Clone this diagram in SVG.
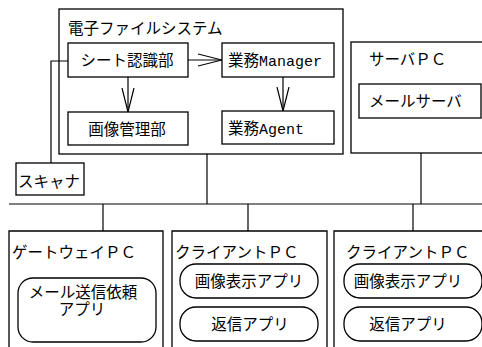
<svg xmlns="http://www.w3.org/2000/svg" width="482" height="347" viewBox="0 0 482 347">
<defs>
<style>
.b{fill:none;stroke:#000;stroke-width:1.3}
.w{fill:#fff;stroke:#000;stroke-width:1.3}
.c{fill:none;stroke:#000;stroke-width:1.2}
.t{font-family:"Liberation Mono","Noto Sans CJK JP",monospace;font-size:15.5px;fill:#000}
.m{text-anchor:middle}
.l{font-family:"Liberation Mono",monospace;font-size:15px}
</style>
<marker id="v" viewBox="0 0 24 14" refX="24" refY="7" markerWidth="24" markerHeight="14" markerUnits="userSpaceOnUse" orient="auto">
<path d="M0,1 L24,7 L0,13" fill="none" stroke="#000" stroke-width="1.2"/>
</marker>
</defs>
<rect width="482" height="347" fill="#fff"/>

<g id="connectors">
<line class="c" x1="9" y1="204" x2="482" y2="204"/>
<line class="c" x1="207" y1="154" x2="207" y2="204"/>
<line class="c" x1="421" y1="153" x2="421" y2="204"/>
<line class="c" x1="103" y1="204" x2="103" y2="231"/>
<line class="c" x1="248" y1="204" x2="248" y2="231"/>
<line class="c" x1="413" y1="204" x2="413" y2="231"/>
<polyline class="c" points="51,163 51,61 68,61"/>
<line class="c" x1="188" y1="60" x2="222" y2="60" marker-end="url(#v)"/>
<line class="c" x1="128" y1="77" x2="128" y2="112" marker-end="url(#v)"/>
<line class="c" x1="283" y1="77" x2="283" y2="111" marker-end="url(#v)"/>
</g>

<g id="efs">
<rect class="b" x="59" y="9" width="284" height="145"/>
<text class="t" x="68" y="33.5">電子ファイルシステム</text>
</g>
<g id="sheet">
<rect class="w" x="68" y="43" width="120" height="34"/>
<text class="t m" x="127" y="66">シート認識部</text>
</g>
<g id="manager">
<rect class="w" x="222" y="43" width="112" height="34"/>
<text class="t" x="228" y="66">業務<tspan class="l">Manager</tspan></text>
</g>
<g id="image">
<rect class="w" x="68" y="112" width="120" height="33"/>
<text class="t m" x="127" y="134.5">画像管理部</text>
</g>
<g id="agent">
<rect class="w" x="222" y="111" width="112" height="33"/>
<text class="t" x="228" y="133.5">業務<tspan class="l">Agent</tspan></text>
</g>
<g id="server">
<rect class="b" x="351" y="42" width="140" height="111"/>
<text class="t" x="369" y="65">サーバＰＣ</text>
</g>
<g id="mailserver">
<rect class="w" x="359" y="84" width="122" height="34"/>
<text class="t" x="369" y="107">メールサーバ</text>
</g>
<g id="scanner">
<rect class="w" x="16" y="163" width="68" height="32"/>
<text class="t" x="18" y="186.5">スキャナ</text>
</g>
<g id="gateway">
<path class="b" d="M9,350 V231 H163 V350"/>
<text class="t" x="12" y="257.5">ゲートウェイＰＣ</text>
<rect class="b" x="18" y="278" width="138" height="64" rx="15"/>
<text class="t m" x="83" y="297.5">メール送信依頼</text>
<text class="t m" x="82" y="314.5">アプリ</text>
</g>
<g id="client1">
<path class="b" d="M172,350 V231 H327 V350"/>
<text class="t" x="175" y="257.5">クライアントＰＣ</text>
<rect class="b" x="180" y="264" width="138" height="34" rx="16"/>
<text class="t m" x="249" y="287">画像表示アプリ</text>
<rect class="b" x="180" y="307" width="138" height="34" rx="16"/>
<text class="t m" x="250" y="330">返信アプリ</text>
</g>
<g id="client2">
<path class="b" d="M334,350 V231 H490"/>
<text class="t" x="346" y="257.5">クライアントＰＣ</text>
<rect class="b" x="344" y="264" width="138" height="34" rx="16"/>
<text class="t m" x="408" y="287">画像表示アプリ</text>
<rect class="b" x="344" y="307" width="138" height="34" rx="16"/>
<text class="t m" x="408" y="330">返信アプリ</text>
</g>
</svg>
